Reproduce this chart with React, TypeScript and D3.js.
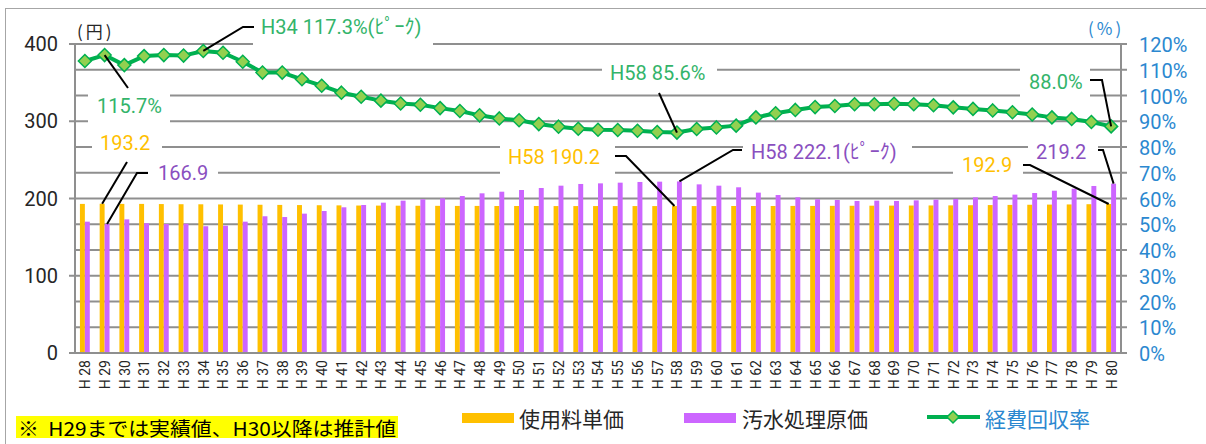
import * as d3 from 'd3'

// 年度（H28〜H80）
const years = [
  'H28', 'H29', 'H30', 'H31', 'H32', 'H33', 'H34', 'H35', 'H36', 'H37', 'H38', 'H39', 'H40', 'H41',
  'H42', 'H43', 'H44', 'H45', 'H46', 'H47', 'H48', 'H49', 'H50', 'H51', 'H52', 'H53', 'H54', 'H55',
  'H56', 'H57', 'H58', 'H59', 'H60', 'H61', 'H62', 'H63', 'H64', 'H65', 'H66', 'H67', 'H68', 'H69',
  'H70', 'H71', 'H72', 'H73', 'H74', 'H75', 'H76', 'H77', 'H78', 'H79', 'H80',
]

// 使用料単価（円）
const unitPrice = [
  193.0, 193.2, 193.0, 193.0, 192.8, 192.6, 192.5, 192.3, 192.1, 191.9, 191.7, 191.5, 191.3, 191.1,
  190.9, 190.8, 190.7, 190.6, 190.5, 190.4, 190.4, 190.3, 190.3, 190.3, 190.2, 190.2, 190.2, 190.2,
  190.2, 190.2, 190.2, 190.2, 190.2, 190.3, 190.3, 190.3, 190.4, 190.4, 190.5, 190.6, 190.7, 190.8,
  190.9, 191.0, 191.1, 191.3, 191.5, 191.7, 191.9, 192.1, 192.3, 192.6, 192.9,
]

// 汚水処理原価（円）
const treatmentCost = [
  170.0, 166.9, 173.0, 168.0, 167.0, 167.4, 164.1, 164.8, 170.0, 177.0, 176.0, 180.4, 183.8, 188.6,
  191.6, 194.6, 197.2, 199.0, 200.2, 203.2, 206.7, 208.8, 211.0, 213.6, 216.6, 218.8, 219.6, 220.5,
  221.4, 221.8, 222.1, 218.3, 216.6, 214.5, 207.6, 204.5, 201.5, 198.9, 198.1, 196.8, 197.2, 196.8,
  197.6, 198.5, 199.4, 201.5, 203.2, 205.0, 207.1, 210.1, 212.7, 216.2, 219.2,
]

// 経費回収率（%）
const recoveryRate = [
  113.4, 115.7, 111.8, 115.3, 115.7, 115.5, 117.3, 116.6, 113.1, 108.9, 108.9, 106.3, 103.8, 101.1,
  99.5, 98.0, 96.9, 96.4, 95.1, 94.0, 92.3, 91.1, 90.4, 88.9, 87.9, 87.1, 86.7, 86.6,
  86.3, 85.8, 85.6, 87.0, 87.6, 88.3, 91.5, 93.1, 94.4, 95.5, 95.9, 96.6, 96.6, 96.8,
  96.6, 96.2, 95.4, 94.8, 94.2, 93.5, 92.6, 91.5, 90.9, 89.7, 88.0,
]

const leftTicks = [0, 100, 200, 300, 400]
const rightTicks = [0, 10, 20, 30, 40, 50, 60, 70, 80, 90, 100, 110, 120]

const C = {
  orange: '#FFC000',
  purple: '#CC66FF',
  green: '#00B050',
  greenFill: '#92D050',
  greenText: '#33B46A',
  orangeText: '#FFC000',
  purpleText: '#8A4FBF',
  blue: '#2B88D0',
  grid: '#8f8f8f',
  text: '#262626',
}

const NUM = 'Roboto, "Noto Sans CJK JP", sans-serif'
const JP = '"Noto Sans CJK JP", sans-serif'

export default function App() {
  const W = 1206
  const H = 444
  const plot = { l: 75, r: 1121, t: 44, b: 353 }

  const x = d3.scaleBand().domain(years).range([plot.l, plot.r]).paddingInner(0).paddingOuter(0)
  const bw = x.bandwidth()
  const cx = (i: number) => (x(years[i]) as number) + bw / 2
  const yL = d3.scaleLinear().domain([0, 400]).range([plot.b, plot.t])
  const yR = d3.scaleLinear().domain([0, 120]).range([plot.b, plot.t])

  const idx = (k: string) => years.indexOf(k)
  const orangeTop = (i: number) => [(x(years[i]) as number) + bw * 0.375, yL(unitPrice[i])]
  const purpleTop = (i: number) => [(x(years[i]) as number) + bw * 0.625, yL(treatmentCost[i])]
  const ratePt = (i: number) => [cx(i), yR(recoveryRate[i])]

  // data labels: white box, text, leader (label end → data point)
  const notes = [
    { text: 'H34 117.3%(ﾋﾟｰｸ)', color: C.greenText, box: [253, 12, 180, 34], tx: 261, ty: 27, lead: [[254, 27], [243, 27]], to: ratePt(idx('H34')) },
    { text: '115.7%', color: C.greenText, box: [88, 88, 82, 36], tx: 97, ty: 106, lead: [[128, 88]], to: ratePt(idx('H29')) },
    { text: '193.2', color: C.orangeText, box: [92, 130, 70, 30], tx: 100, ty: 143, lead: [[127, 162]], to: orangeTop(idx('H29')) },
    { text: '166.9', color: C.purpleText, box: [148, 160, 70, 26], tx: 158, ty: 173, lead: [[148, 173], [137, 173]], to: purpleTop(idx('H29')) },
    { text: 'H58 85.6%', color: C.greenText, box: [602, 58, 115, 30], tx: 610, ty: 73, lead: [[659, 93]], to: ratePt(idx('H58')) },
    { text: 'H58 190.2', color: C.orangeText, box: [500, 140, 115, 38], tx: 508, ty: 157, lead: [[615, 156], [626, 156]], to: orangeTop(idx('H58')) },
    { text: 'H58 222.1(ﾋﾟｰｸ)', color: C.purpleText, box: [743, 138, 169, 26], tx: 751, ty: 152, lead: [[742, 150], [733, 150]], to: purpleTop(idx('H58')) },
    { text: '219.2', color: C.purpleText, box: [1028, 138, 70, 22], tx: 1036, ty: 152, lead: [[1098, 150], [1103, 150]], to: purpleTop(idx('H80')) },
    { text: '88.0%', color: C.greenText, box: [1020, 60, 70, 45], tx: 1029, ty: 82, lead: [[1090, 80], [1102, 80]], to: ratePt(idx('H80')) },
    { text: '192.9', color: C.orangeText, box: [953, 158, 70, 22], tx: 962, ty: 165, lead: [[1023, 165], [1030, 165]], to: orangeTop(idx('H80')) },
  ]

  const line = d3.line<number>().x((_, i) => cx(i)).y(d => yR(d))
  const diamond = (s: number) => `M0,${-s}L${s},0L0,${s}L${-s},0Z`

  return (
    <svg width={W} height={H} style={{ position: 'absolute', left: 0, top: 0, background: '#fff' }}>
      <rect x={5.5} y={8.5} width={1300} height={500} fill="#fff" stroke="#a6a6a6" strokeWidth={1} />

      {/* units */}
      <text x={77} y={30} fontFamily={JP} fontSize={17} fill={C.text} dominantBaseline="central" letterSpacing={3}>(円)</text>
      <text x={1088} y={27} fontFamily={JP} fontSize={17} fill={C.blue} dominantBaseline="central" letterSpacing={3}>(%)</text>

      {/* gridlines */}
      {rightTicks.filter(t => t > 0).map(t => (
        <line key={t} x1={plot.l} x2={plot.r} y1={yR(t)} y2={yR(t)} stroke={C.grid} strokeWidth={2} />
      ))}

      {/* left axis */}
      <line x1={plot.l} x2={plot.l} y1={plot.t} y2={plot.b} stroke={C.grid} strokeWidth={2} />
      {leftTicks.map(t => (
        <g key={t}>
          <line x1={plot.l - 6} x2={plot.l} y1={yL(t)} y2={yL(t)} stroke={C.grid} strokeWidth={2} />
          <text x={58} y={yL(t)} textAnchor="end" dominantBaseline="central" fontFamily={NUM} fontSize={20} fill={C.text}>{t}</text>
        </g>
      ))}

      {/* right axis */}
      <line x1={plot.r} x2={plot.r} y1={plot.t} y2={plot.b} stroke={C.grid} strokeWidth={2} />
      {rightTicks.map(t => (
        <g key={t}>
          <line x1={plot.r} x2={plot.r + 6} y1={yR(t)} y2={yR(t)} stroke={C.grid} strokeWidth={2} />
          <text x={1139} y={yR(t) + 1} dominantBaseline="central" fontFamily={NUM} fontSize={20} fill={C.blue}>{t}%</text>
        </g>
      ))}

      {/* label boxes hide gridlines */}
      {notes.map((n, i) => (
        <rect key={i} x={n.box[0]} y={n.box[1]} width={n.box[2]} height={n.box[3]} fill="#fff" />
      ))}

      {/* bars */}
      {years.map((k, i) => (
        <g key={k}>
          <rect x={(x(k) as number) + bw * 0.25} y={yL(unitPrice[i])} width={bw * 0.25} height={yL(0) - yL(unitPrice[i])} fill={C.orange} />
          <rect x={(x(k) as number) + bw * 0.5} y={yL(treatmentCost[i])} width={bw * 0.25} height={yL(0) - yL(treatmentCost[i])} fill={C.purple} />
        </g>
      ))}

      {/* x axis */}
      <line x1={plot.l} x2={plot.r} y1={plot.b} y2={plot.b} stroke={C.grid} strokeWidth={2} />
      {years.map((k, i) => (
        <text key={k} transform={`translate(${cx(i) + 0.5},360) rotate(-90)`} textAnchor="end" dy="0.35em"
          fontFamily={NUM} fontSize={14} fill={C.text}>{k.replace('H', 'H ')}</text>
      ))}

      {/* recovery rate line */}
      <path d={line(recoveryRate) || ''} fill="none" stroke={C.green} strokeWidth={4} strokeLinejoin="round" />
      {recoveryRate.map((v, i) => (
        <path key={i} d={diamond(6.5)} transform={`translate(${cx(i)},${yR(v)})`} fill={C.greenFill} stroke={C.green} strokeWidth={1.5} />
      ))}

      {/* leaders + labels */}
      {notes.map((n, i) => (
        <g key={i}>
          <polyline points={[...n.lead, n.to].map(p => p.join(',')).join(' ')} fill="none" stroke="#000" strokeWidth={2} />
          <text x={n.tx} y={n.ty} dominantBaseline="central" fontFamily={NUM} fontSize={20} fill={n.color}>{n.text}</text>
        </g>
      ))}

      {/* footnote */}
      <rect x={16} y={416} width={382} height={22} fill="#FFFF00" />
      <text x={18} y={427} dominantBaseline="central" fontFamily={JP} fontSize={19} fill="#000" textLength={378} lengthAdjust="spacingAndGlyphs">{'※\u00a0\u00a0H29までは実績値、H30以降は推計値'}</text>

      {/* legend */}
      <rect x={462} y={413} width={52} height={10} fill={C.orange} />
      <text x={519} y={418} dominantBaseline="central" fontFamily={JP} fontSize={21} fill={C.text}>使用料単価</text>
      <rect x={684} y={413} width={52} height={10} fill={C.purple} />
      <text x={742} y={418} dominantBaseline="central" fontFamily={JP} fontSize={21} fill={C.text}>汚水処理原価</text>
      <line x1={927} x2={980} y1={417} y2={417} stroke={C.green} strokeWidth={4} />
      <path d={diamond(6)} transform="translate(953,417)" fill={C.greenFill} stroke={C.green} strokeWidth={1.5} />
      <text x={985} y={418} dominantBaseline="central" fontFamily={JP} fontSize={21} fill={C.blue}>経費回収率</text>
    </svg>
  )
}
